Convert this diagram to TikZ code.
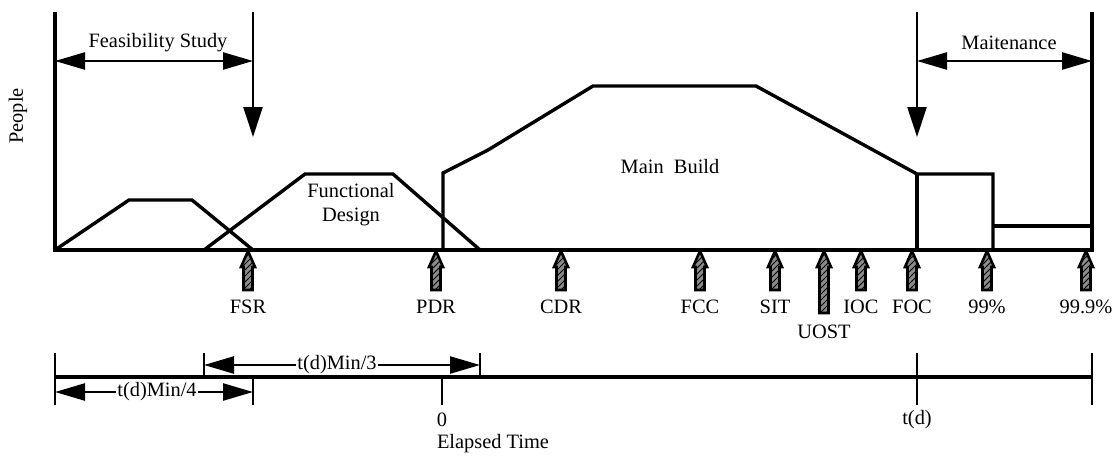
\documentclass[tikz,border=0pt]{standalone}
\usepackage{fontspec}
\setmainfont{Liberation Serif}
\usetikzlibrary{arrows.meta,patterns}

\newcommand*{\xleft}{55}
\newcommand*{\xright}{1092}
\newcommand*{\ytop}{12}
\newcommand*{\ybase}{250}
\newcommand*{\ytime}{377}

\begin{document}
\begin{tikzpicture}
[
	x=0.5pt,
	y=-0.5pt,
	every node/.style={font=\fontsize{10.2}{12}\selectfont, inner sep=1pt},
	phase/.style={line width=1.7pt, line join=miter},
	axis/.style={line width=1.6pt},
	tick/.style={line width=1.4pt},
	span/.style={line width=1.2pt, {Triangle[length=15pt,width=8.5pt]}-{Triangle[length=15pt,width=8.5pt]}},
	drop/.style={line width=1.2pt, -{Triangle[length=15pt,width=9.5pt]}},
	milestone/.style={line width=1.3pt, line join=miter, preaction={fill=black!45}, pattern=north east lines},
	inlbl/.style={fill=white, inner sep=0.5pt}
]
	\useasboundingbox (0,0) rectangle (1117,455);

	% axes
	\draw[axis] (\xleft,\ytop) -- (\xleft,\ybase) -- (\xright,\ybase) -- (\xright,\ytop);
	\node[rotate=90] (people) at (18,116) {People};

	% phases
	\draw[phase] (\xleft,\ybase) -- (129,200) -- (192,200) -- (253,\ybase);
	\draw[phase] (204,\ybase) -- (305,174) -- (393,174) -- (480,\ybase);
	\draw[phase] (443,\ybase) -- (443,173) -- (488,150) -- (593,86) -- (756,86)
		-- (917,174) -- (993,174) -- (993,\ybase);
	\draw[phase] (917,174) -- (917,\ybase);
	\draw[phase] (993,226) -- (\xright,226);
	\node[align=center] (fdesign) at (351,205) {Functional\\Design};
	\node (mbuild) at (670,167) {Main\ \ Build};

	% feasibility study and maintenance
	\coordinate (fs-l) at (\xleft,61);
	\coordinate (fs-r) at (253,61);
	\coordinate (fs-top) at (253,\ytop);
	\coordinate (fs-tip) at (253,137);
	\draw[span] (fs-l) -- (fs-r);
	\draw[drop] (fs-top) -- (fs-tip);
	\node (feas) at (158,43) {Feasibility Study};

	\coordinate (mt-l) at (917,61);
	\coordinate (mt-r) at (\xright,61);
	\coordinate (mt-top) at (917,\ytop);
	\coordinate (mt-tip) at (917,137);
	\draw[span] (mt-l) -- (mt-r);
	\draw[drop] (mt-top) -- (mt-tip);
	\node (maint) at (1009,43) {Maitenance};

	% milestones
	\foreach \px/\txt/\id/\len in {248/FSR/fsr/290, 436/PDR/pdr/290, 561/CDR/cdr/290,
		700/FCC/fcc/290, 775/SIT/sit/290, 861/IOC/ioc/290, 912/FOC/foc/290,
		987/{99\%}/pc99/290, 1086/{99.9\%}/pc999/290, 824/{}/uost/313}
	{
		\draw[milestone] (\px,251) -- ++(7,16) -- ++(-2.5,0) -- (\px+4.5,\len)
			-- (\px-4.5,\len) -- (\px-4.5,267) -- ++(-2.5,0) -- cycle;
		\node (\id) at (\px,307) {\txt};
	}
	\node (uostlbl) at (824,332) {UOST};

	% elapsed time
	\draw[axis] (\xleft,\ytime) -- (\xright,\ytime);
	\draw[tick] (\xleft,353) -- (\xleft,405);
	\draw[tick] (204,353) -- (204,\ytime);
	\draw[tick] (480,353) -- (480,\ytime);
	\draw[tick] (253,\ytime) -- (253,405);
	\draw[tick] (442,\ytime) -- (442,405);
	\draw[tick] (917,353) -- (917,405);
	\draw[tick] (\xright,353) -- (\xright,405);

	\coordinate (t3-l) at (204,365);
	\coordinate (t3-r) at (480,365);
	\draw[span] (t3-l) -- (t3-r);
	\node[inlbl] (t3) at (337,365) {t(d)Min/3};
	\coordinate (t4-l) at (\xleft,392);
	\coordinate (t4-r) at (253,392);
	\draw[span] (t4-l) -- (t4-r);
	\node[inlbl] (t4) at (157,392) {t(d)Min/4};

	\node (zero) at (442,420) {0};
	\node (td) at (917,420) {t(d)};
	\node (elapsed) at (493,444) {Elapsed Time};

\end{tikzpicture}
\end{document}
